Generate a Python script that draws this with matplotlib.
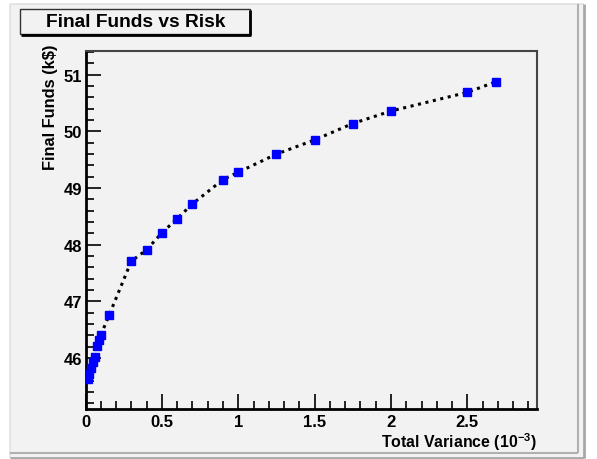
import numpy as np
import matplotlib
matplotlib.use("Agg")
import matplotlib.pyplot as plt
from matplotlib.patches import Rectangle
from matplotlib.lines import Line2D
from matplotlib.ticker import MultipleLocator, FormatStrFormatter

plt.rcParams['font.family'] = ['Liberation Sans', 'DejaVu Sans']
plt.rcParams['font.weight'] = 'bold'
plt.rcParams['mathtext.fontset'] = 'custom'
plt.rcParams['mathtext.rm'] = 'Liberation Sans:bold'
plt.rcParams['mathtext.it'] = 'Liberation Sans:bold'
plt.rcParams['mathtext.bf'] = 'Liberation Sans:bold'

# data
variance = [0.016, 0.023, 0.036, 0.049, 0.062, 0.075, 0.088, 0.101, 0.155,
            0.30, 0.40, 0.50, 0.60, 0.70, 0.90, 1.00, 1.25, 1.50, 1.75,
            2.00, 2.50, 2.69]
funds = [45.63, 45.72, 45.83, 45.93, 46.02, 46.21, 46.32, 46.41, 46.76,
         47.71, 47.91, 48.21, 48.46, 48.72, 49.15, 49.28, 49.60, 49.85, 50.14,
         50.36, 50.69, 50.88]

W, H = 597, 460
bg = '#f2f2f2'

fig = plt.figure(figsize=(W / 100, H / 100), dpi=100, facecolor='white')

def fx(p):
    return p / W

def fy(p):
    return 1 - p / H

def seg(x0, y0, x1, y1, c, lw, z=-5):
    fig.add_artist(Line2D([fx(x0), fx(x1)], [fy(y0), fy(y1)], color=c, lw=lw,
                          transform=fig.transFigure, solid_capstyle='butt', zorder=z))

# pad with bevel
fig.add_artist(Rectangle((fx(10), fy(459)), fx(584) - fx(10), fy(5) - fy(459),
                         transform=fig.transFigure, facecolor=bg, edgecolor='none', zorder=-10))
seg(10, 5, 10, 459, '#e0e0e0', 1.2)
seg(10, 5, 584, 5, '#e0e0e0', 1.2)
seg(577.5, 5, 577.5, 454, '#b0b0b0', 1.5)
seg(10, 454, 577.5, 454, '#b0b0b0', 1.5)
seg(583.5, 5, 583.5, 459, '#a8a8a8', 2)
seg(10, 459, 584, 459, '#a8a8a8', 2)

ax = fig.add_axes([fx(85.5), 1 - 410 / H, fx(537) - fx(85.5), (410 - 52) / H])
ax.set_facecolor(bg)

ax.plot(variance, funds, color='black', ls=(0, (1, 1.5)), lw=2.2, zorder=2)
ax.plot(variance, funds, ls='none', marker='s', ms=5.2, mfc='#0000ff', mec='#0000ff', zorder=3)

ax.set_xlim(0, 2.956)
ax.set_ylim(45.10, 51.42)

ax.xaxis.set_major_locator(MultipleLocator(0.5))
ax.xaxis.set_minor_locator(MultipleLocator(0.1))
ax.yaxis.set_major_locator(MultipleLocator(1))
ax.yaxis.set_minor_locator(MultipleLocator(0.2))
ax.xaxis.set_major_formatter(FormatStrFormatter('%g'))
ax.yaxis.set_major_formatter(FormatStrFormatter('%g'))

ax.tick_params(which='both', direction='in', top=False, right=False, width=1.2, color='black')
ax.tick_params(which='major', length=11, labelsize=12)
ax.tick_params(axis='x', which='major', pad=3.5)
ax.tick_params(axis='y', which='major', pad=2.5)
ax.tick_params(which='minor', length=5.5)

for s in ['left', 'bottom']:
    ax.spines[s].set_linewidth(2)
    ax.spines[s].set_color('black')
for s in ['top', 'right']:
    ax.spines[s].set_linewidth(1.5)
    ax.spines[s].set_color('#444444')

ax.set_xlabel(r'Total Variance (10$^{-3}$)', fontsize=11.4, fontweight='bold')
ax.xaxis.set_label_coords(1.0, -0.06)
ax.xaxis.label.set_horizontalalignment('right')
ax.xaxis.label.set_verticalalignment('top')
ax.set_ylabel('Final Funds (k$)', fontsize=11.8, fontweight='bold')
ax.yaxis.set_label_coords(-0.062, 1.02)
ax.yaxis.label.set_horizontalalignment('right')

# title box
fig.add_artist(Rectangle((fx(20), fy(35)), fx(250) - fx(20), fy(10) - fy(35),
                         transform=fig.transFigure, facecolor=bg, edgecolor='#333333', lw=1))
seg(250, 11, 250, 36, 'black', 2, z=5)
seg(21, 36, 251, 36, 'black', 2, z=5)
fig.text(fx(135.5), fy(22.5), 'Final Funds vs Risk', ha='center', va='center',
         fontsize=13.8, fontweight='bold')

fig.savefig('out.png', dpi=100, facecolor='white')
